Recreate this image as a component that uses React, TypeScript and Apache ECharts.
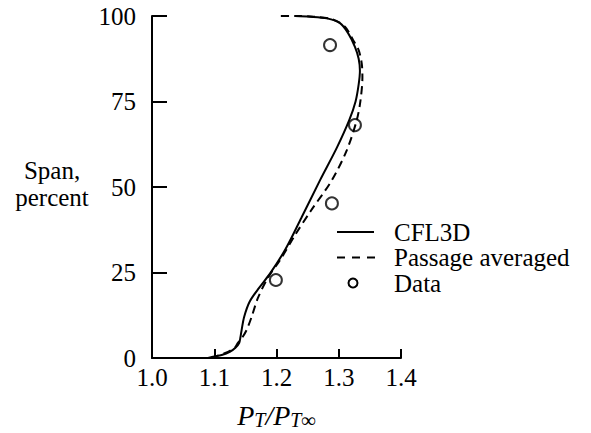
import React, { useEffect, useRef } from "react";
import * as echarts from "echarts";

const xTicks = [1.0, 1.1, 1.2, 1.3, 1.4];
const yTicks = [0, 25, 50, 75, 100];

const cfl3dX = [1.09, 1.098, 1.112, 1.125, 1.134, 1.14, 1.142, 1.144, 1.148, 1.157, 1.172, 1.19, 1.215, 1.24, 1.27, 1.297, 1.317, 1.327, 1.332, 1.334, 1.332, 1.326, 1.315, 1.302, 1.281, 1.254, 1.23];
const cfl3dY = [0, 0.4, 0.9, 1.8, 3, 4.4, 6, 8.2, 12, 16.5, 20.5, 24.8, 32, 41, 52, 61.5, 69.6, 75, 80, 84, 87.5, 91, 95, 97.9, 99.3, 99.8, 100];

const passX = [1.095, 1.101, 1.122, 1.133, 1.138, 1.145, 1.152, 1.16, 1.17, 1.186, 1.206, 1.23, 1.255, 1.289, 1.313, 1.329, 1.335, 1.338, 1.337, 1.332, 1.323, 1.31, 1.29, 1.26, 1.23, 1.202];
const passY = [0, 0.4, 1.8, 3, 4.4, 6, 8.2, 12, 17.5, 23.4, 28.7, 36, 43, 52, 60.8, 69.6, 75.4, 82, 86, 90, 93, 96.9, 99, 99.8, 100, 100];

const dataX = [1.199, 1.289, 1.326, 1.286];
const dataY = [22.8, 45.2, 68.1, 91.5];

const legendNames = ["CFL3D", "Passage averaged", "Data"];

const FONT = "Liberation Serif";

export default function App() {
  const ref = useRef<HTMLDivElement>(null);
  useEffect(() => {
    if (!ref.current) return;
    const chart = echarts.init(ref.current, null, { renderer: "svg" });
    const zip = (xs: number[], ys: number[]) => xs.map((x, i) => [x, ys[i]]);
    const legendTop = 232;
    const legendStep = 25.5;
    const legendText = (name: string, i: number) => ({
      type: "text",
      x: 394,
      y: legendTop + i * legendStep,
      style: {
        text: name,
        fontFamily: FONT,
        fontSize: 25,
        fill: "#000",
        align: "left",
        verticalAlign: "middle",
      },
    });
    chart.setOption({
      animation: false,
      backgroundColor: "#ffffff",
      grid: { left: 152, right: 190, top: 16, bottom: 75, outerBoundsMode: "none", containLabel: false },
      xAxis: {
        type: "value",
        min: xTicks[0],
        max: xTicks[xTicks.length - 1],
        interval: 0.1,
        axisLine: { lineStyle: { color: "#000", width: 2 } },
        axisTick: { inside: true, length: 9, lineStyle: { color: "#000", width: 2 } },
        splitLine: { show: false },
        axisLabel: {
          color: "#000",
          fontFamily: FONT,
          fontSize: 25,
          margin: 7,
          formatter: (v: number) => v.toFixed(1),
        },
        name: "{p|P}{s|T}{p|/P}{s|T∞}",
        nameLocation: "middle",
        nameGap: 42,
        nameTextStyle: {
          rich: {
            p: { fontFamily: FONT, fontStyle: "italic", fontSize: 28, color: "#000", verticalAlign: "middle", lineHeight: 30 },
            s: { fontFamily: FONT, fontStyle: "italic", fontSize: 20, color: "#000", verticalAlign: "bottom", lineHeight: 16 },
          },
        },
      },
      yAxis: {
        type: "value",
        min: yTicks[0],
        max: yTicks[yTicks.length - 1],
        interval: 25,
        axisLine: { lineStyle: { color: "#000", width: 2 } },
        axisTick: { inside: true, length: 15, lineStyle: { color: "#000", width: 2 } },
        splitLine: { show: false },
        axisLabel: { color: "#000", fontFamily: FONT, fontSize: 25, margin: 16 },
      },
      graphic: [
        {
          type: "text",
          x: 52,
          y: 157,
          style: {
            text: "Span,\npercent",
            fontFamily: FONT,
            fontSize: 25,
            fill: "#000",
            align: "center",
            lineHeight: 27,
          },
        },
        {
          type: "line",
          shape: { x1: 337, y1: legendTop, x2: 374, y2: legendTop },
          style: { stroke: "#000", lineWidth: 2 },
        },
        {
          type: "line",
          shape: { x1: 337, y1: legendTop + legendStep, x2: 376, y2: legendTop + legendStep },
          style: { stroke: "#000", lineWidth: 2, lineDash: [8, 7] },
        },
        {
          type: "circle",
          shape: { cx: 353, cy: legendTop + 2 * legendStep, r: 4.5 },
          style: { fill: "#fff", stroke: "#000", lineWidth: 2 },
        },
        ...legendNames.map(legendText),
      ],
      series: [
        {
          name: legendNames[0],
          type: "line",
          data: zip(cfl3dX, cfl3dY),
          showSymbol: false,
          symbol: "none",
          smooth: 0.3,
          lineStyle: { color: "#000", width: 2 },
          itemStyle: { color: "#000" },
        },
        {
          name: legendNames[1],
          type: "line",
          data: zip(passX, passY),
          showSymbol: false,
          symbol: "none",
          smooth: 0.3,
          lineStyle: { color: "#000", width: 2, type: [8, 5] },
          itemStyle: { color: "#000" },
        },
        {
          name: legendNames[2],
          type: "scatter",
          data: zip(dataX, dataY),
          symbol: "circle",
          symbolSize: 12,
          itemStyle: { color: "#fff", borderColor: "#000", borderWidth: 2 },
        },
      ],
    });
    return () => chart.dispose();
  }, []);
  return (
    <div
      ref={ref}
      style={{ position: "absolute", left: 0, top: 0, width: 591, height: 433 }}
    />
  );
}
